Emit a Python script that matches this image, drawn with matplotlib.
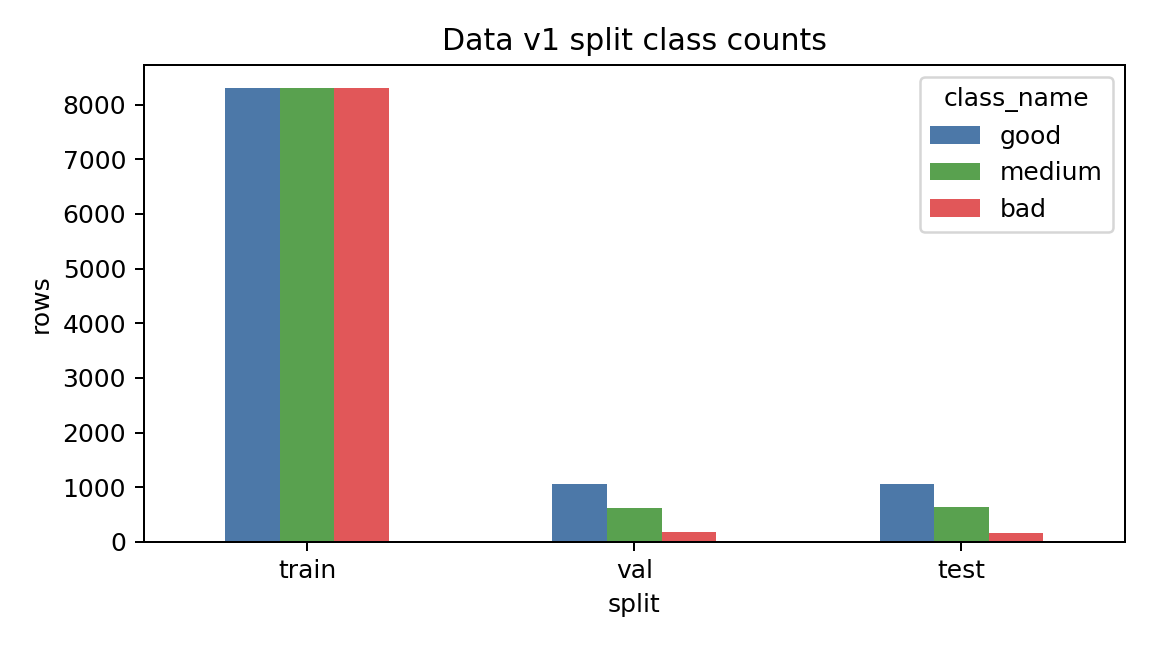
import pandas as pd
import matplotlib.pyplot as plt

splits = ["train", "val", "test"]
classes = ["good", "medium", "bad"]
good = [8312, 1057, 1057]
medium = [8312, 617, 636]
bad = [8312, 183, 165]

df = pd.DataFrame({"good": good, "medium": medium, "bad": bad}, index=splits)
df.index.name = "split"
df.columns.name = "class_name"

fig, ax = plt.subplots(figsize=(6.4, 3.6), dpi=180)
df[classes].plot(kind="bar", ax=ax, color=["#4C78A8", "#59A14F", "#E15759"], rot=0)
ax.set_title("Data v1 split class counts")
ax.set_xlabel("split")
ax.set_ylabel("rows")
fig.subplots_adjust(left=0.1246, right=0.9766, bottom=0.1636, top=0.900)
fig.savefig("out.png", dpi=180)
